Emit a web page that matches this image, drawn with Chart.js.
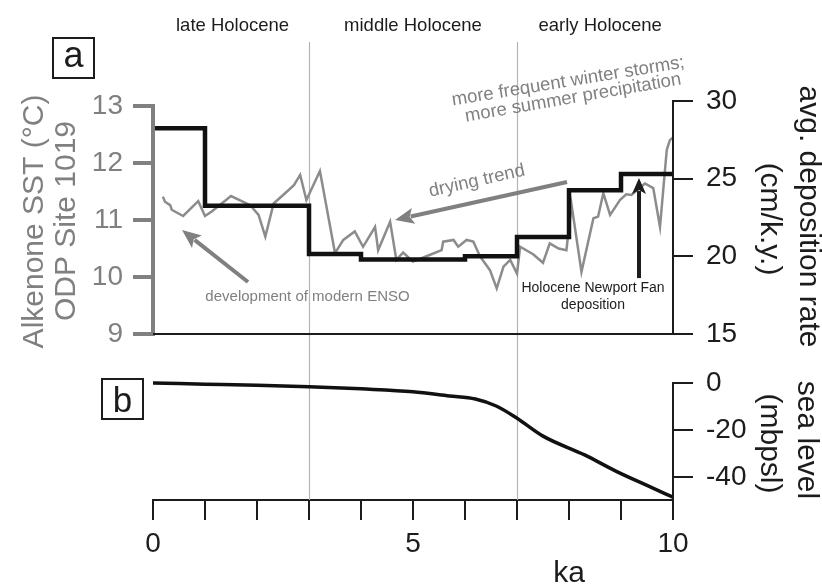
<!DOCTYPE html>
<html>
<head>
<meta charset="utf-8">
<script src="https://cdn.jsdelivr.net/npm/chart.js@4.4.1/dist/chart.umd.min.js"></script>
<style>
  html, body { margin: 0; padding: 0; background: #fff; }
  #wrap { width: 822px; height: 586px; }
</style>
</head>
<body>
<div id="wrap"><canvas id="holocene" width="822" height="586"></canvas></div>
<script>
// alkenone SST, ODP Site 1019 (ka, degC)
const sstAge = [0.19, 0.23, 0.33, 0.36, 0.58, 0.87, 1.0, 1.13, 1.5, 1.87, 2.03, 2.16, 2.32, 2.54, 2.71, 2.83, 2.95, 3.21,
  3.5, 3.66, 3.88, 4.04, 4.27, 4.33, 4.56, 4.68, 4.81, 5.0, 5.33, 5.55, 5.58, 5.78, 5.87, 6.03, 6.16, 6.29, 6.48, 6.61,
  6.74, 6.87, 7.0, 7.06, 7.31, 7.5, 7.63, 7.8, 7.95, 8.05, 8.24, 8.47, 8.56, 8.66, 8.79, 8.98, 9.1, 9.2, 9.46, 9.62,
  9.75, 9.88, 9.94, 10.0];
const sstValue = [11.41, 11.32, 11.26, 11.18, 11.07, 11.33, 11.07, 11.15, 11.42, 11.26, 11.09, 10.71, 11.29, 11.47, 11.61, 11.79, 11.35, 11.86,
  10.42, 10.65, 10.8, 10.53, 10.88, 10.47, 10.97, 10.3, 10.43, 10.27, 10.39, 10.47, 10.62, 10.65, 10.53, 10.65, 10.62, 10.36, 10.12, 9.8,
  10.18, 10.3, 10.06, 10.53, 10.4, 10.25, 10.59, 10.5, 10.47, 11.26, 10.09, 11.03, 11.06, 11.47, 11.09, 11.35, 11.45, 11.44, 11.64, 11.56,
  10.88, 12.23, 12.4, 12.45];

// average deposition rate (cm/k.y.), step edges in ka
const depEdges = [0, 1, 3, 4, 6, 7, 8, 9, 10];
const depRate = [28.25, 23.25, 20.15, 19.8, 20.0, 21.25, 24.25, 25.3, 25.3];

// sea level (mbpsl)
const seaAge = [0, 1, 2, 3, 4, 5, 5.7, 6.2, 6.6, 7.0, 7.5, 8.3, 8.9, 9.5, 10];
const seaLevel = [0, -0.5, -1.0, -1.6, -2.5, -3.7, -5.5, -6.8, -9.8, -15, -22.6, -30.6, -37.5, -43.6, -48.6];

const ageTicks = [0, 1, 2, 3, 4, 5, 6, 7, 8, 9, 10];
const ageLabels = [0, 5, 10];
const sstTicks = [9, 10, 11, 12, 13];
const depTicks = [15, 20, 25, 30];
const seaTicks = [0, -20, -40];
const periodBounds = [3, 7];
const periodNames = ['late Holocene', 'middle Holocene', 'early Holocene'];
const periodCentres = [1.53, 5.0, 8.6];

const FONT = '"Liberation Sans", Arial, Helvetica, sans-serif';
const GREY = '#808080';
const INK = '#1c1c1c';

function toXY(xs, ys) {
  return xs.map((v, i) => ({ x: v, y: ys[i] }));
}

function drawArrow(ctx, x1, y1, x2, y2, color, width, headLen, headW) {
  const ang = Math.atan2(y2 - y1, x2 - x1);
  const bx = x2 - headLen * Math.cos(ang);
  const by = y2 - headLen * Math.sin(ang);
  ctx.save();
  ctx.strokeStyle = color;
  ctx.fillStyle = color;
  ctx.lineWidth = width;
  ctx.beginPath();
  ctx.moveTo(x1, y1);
  ctx.lineTo(bx + 3 * Math.cos(ang), by + 3 * Math.sin(ang));
  ctx.stroke();
  ctx.beginPath();
  ctx.moveTo(x2, y2);
  ctx.lineTo(bx - headW / 2 * Math.sin(ang), by + headW / 2 * Math.cos(ang));
  ctx.lineTo(bx + 4 * Math.cos(ang), by + 4 * Math.sin(ang));
  ctx.lineTo(bx + headW / 2 * Math.sin(ang), by - headW / 2 * Math.cos(ang));
  ctx.closePath();
  ctx.fill();
  ctx.restore();
}

function label(ctx, str, px, py, size, color, rot, align, baseline) {
  ctx.save();
  ctx.font = size + 'px ' + FONT;
  ctx.fillStyle = color;
  ctx.textAlign = align || 'center';
  ctx.textBaseline = baseline || 'alphabetic';
  ctx.translate(px, py);
  if (rot) ctx.rotate(rot * Math.PI / 180);
  ctx.fillText(str, 0, 0);
  ctx.restore();
}

function seg(ctx, x1, y1, x2, y2, color, w) {
  ctx.save();
  ctx.strokeStyle = color;
  ctx.lineWidth = w;
  ctx.beginPath();
  ctx.moveTo(x1, y1);
  ctx.lineTo(x2, y2);
  ctx.stroke();
  ctx.restore();
}

const overlay = {
  id: 'overlay',
  afterLayout(chart) {
    // sea-level axis shares the right edge with the deposition axis; give its labels room
    const s = chart.scales.ySea;
    s.right = s.left + 149;
  },
  beforeDatasetsDraw(chart) {
    const { ctx, chartArea, scales: { x } } = chart;
    periodBounds.forEach((v) => {
      const px = Math.round(x.getPixelForValue(v)) + 0.5;
      seg(ctx, px, 42, px, chartArea.bottom, '#b4b4b4', 1.2);
    });
  },
  afterDraw(chart) {
    const { ctx, chartArea, scales: { x, ySST, yDep, ySea } } = chart;
    const x0 = x.getPixelForValue(0);
    const x10 = x.getPixelForValue(10);

    // partial axis lines
    seg(ctx, x0, ySST.getPixelForValue(9) + 2, x0, ySST.getPixelForValue(13) - 2, GREY, 4);
    seg(ctx, x0, ySST.getPixelForValue(9), x10, ySST.getPixelForValue(9), INK, 2);
    seg(ctx, x10, yDep.getPixelForValue(15), x10, yDep.getPixelForValue(30) - 1, INK, 2);
    seg(ctx, x10, ySea.getPixelForValue(0) - 1, x10, chartArea.bottom, INK, 2);

    // period names
    periodNames.forEach((n, i) => label(ctx, n, x.getPixelForValue(periodCentres[i]), 31, 18.5, INK));

    // panel letters
    ctx.save();
    ctx.strokeStyle = INK;
    ctx.lineWidth = 2;
    ctx.strokeRect(53, 38, 41, 40);
    ctx.strokeRect(102, 379, 41, 40);
    ctx.restore();
    label(ctx, 'a', 73.5, 67, 36, INK);
    label(ctx, 'b', 122.5, 412, 35, INK);

    // axis titles
    label(ctx, 'Alkenone SST (°C)', 42.5, 221.5, 30, GREY, -90);
    label(ctx, 'ODP Site 1019', 75, 221, 30, GREY, -90);
    label(ctx, 'avg. deposition rate', 800, 216.5, 30, INK, 90);
    label(ctx, '(cm/k.y.)', 761, 219, 30, INK, 90);
    label(ctx, 'sea level', 798, 440, 30, INK, 90);
    label(ctx, '(mbpsl)', 761, 443.5, 30, INK, 90);
    label(ctx, 'ka', 569, 582, 30, INK);

    // annotations
    label(ctx, 'development of modern ENSO', 307.5, 300.5, 15, GREY);
    label(ctx, 'drying trend', 478, 186, 18.5, GREY, -12.6);
    label(ctx, 'more frequent winter storms;', 569, 86.5, 18.5, GREY, -9.3);
    label(ctx, 'more summer precipitation', 574, 103, 18.5, GREY, -9.8);
    label(ctx, 'Holocene Newport Fan', 593, 292, 14, INK);
    label(ctx, 'deposition', 593, 308.5, 14, INK);

    drawArrow(ctx, x.getPixelForValue(1.827), ySST.getPixelForValue(9.912),
      x.getPixelForValue(0.558), ySST.getPixelForValue(10.825), GREY, 4, 19, 16);
    drawArrow(ctx, x.getPixelForValue(7.962), ySST.getPixelForValue(11.667),
      x.getPixelForValue(4.654), ySST.getPixelForValue(11.0), GREY, 4, 19, 16);
    drawArrow(ctx, x.getPixelForValue(9.346), yDep.getPixelForValue(18.6),
      x.getPixelForValue(9.346), yDep.getPixelForValue(25.04), INK, 4, 16, 14);
  }
};

const tickFont = { family: FONT, size: 28 };

new Chart(document.getElementById('holocene'), {
  type: 'line',
  data: {
    datasets: [
      {
        label: 'deposition rate',
        data: toXY(depEdges, depRate),
        yAxisID: 'yDep',
        stepped: 'before',
        borderColor: '#111',
        borderWidth: 4.5,
        pointRadius: 0,
        fill: false
      },
      {
        label: 'sea level',
        data: toXY(seaAge, seaLevel),
        yAxisID: 'ySea',
        borderColor: '#111',
        borderWidth: 3.5,
        cubicInterpolationMode: 'monotone',
        pointRadius: 0,
        fill: false
      },
      {
        label: 'SST',
        data: toXY(sstAge, sstValue),
        yAxisID: 'ySST',
        borderColor: '#8c8c8c',
        borderWidth: 2.5,
        tension: 0,
        pointRadius: 0,
        fill: false
      }
    ]
  },
  options: {
    responsive: false,
    animation: false,
    events: [],
    layout: { padding: { top: 101, left: 0, right: 0, bottom: 0 } },
    plugins: { legend: { display: false }, tooltip: { enabled: false } },
    scales: {
      x: {
        type: 'linear',
        position: 'bottom',
        min: 0,
        max: 10,
        afterBuildTicks: (s) => { s.ticks = ageTicks.map((v) => ({ value: v })); },
        afterFit: (s) => { s.height = 86; },
        ticks: {
          autoSkip: false,
          maxRotation: 0,
          padding: 7,
          color: INK,
          font: tickFont,
          callback: (v) => (ageLabels.includes(v) ? String(v) : '')
        },
        grid: { drawOnChartArea: false, drawTicks: true, tickLength: 20, color: INK, lineWidth: 2 },
        border: { display: true, color: INK, width: 2 }
      },
      ySST: {
        type: 'linear',
        position: 'left',
        min: 6.0877,
        max: 13.0877,
        afterBuildTicks: (s) => { s.ticks = sstTicks.map((v) => ({ value: v })); },
        afterFit: (s) => { s.width = 153; },
        ticks: { autoSkip: false, padding: 10, color: GREY, font: tickFont, callback: (v) => String(v) },
        grid: { drawOnChartArea: false, tickLength: 20, color: GREY, lineWidth: 4 },
        border: { display: false }
      },
      ySea: {
        type: 'linear',
        position: 'right',
        weight: -1,
        min: -49.79,
        max: 120,
        afterBuildTicks: (s) => { s.ticks = seaTicks.map((v) => ({ value: v })); },
        afterFit: (s) => { s.width = 0; },
        ticks: { autoSkip: false, padding: 13, color: INK, font: tickFont, callback: (v) => String(v) },
        grid: { drawOnChartArea: false, tickLength: 20, color: INK, lineWidth: 2 },
        border: { display: false }
      },
      yDep: {
        type: 'linear',
        position: 'right',
        weight: 0,
        min: 4.313,
        max: 30,
        afterBuildTicks: (s) => { s.ticks = depTicks.map((v) => ({ value: v })); },
        afterFit: (s) => { s.width = 149; },
        ticks: { autoSkip: false, padding: 13, color: INK, font: tickFont, callback: (v) => String(v) },
        grid: { drawOnChartArea: false, tickLength: 20, color: INK, lineWidth: 2 },
        border: { display: false }
      }
    }
  },
  plugins: [overlay]
});
</script>
</body>
</html>
